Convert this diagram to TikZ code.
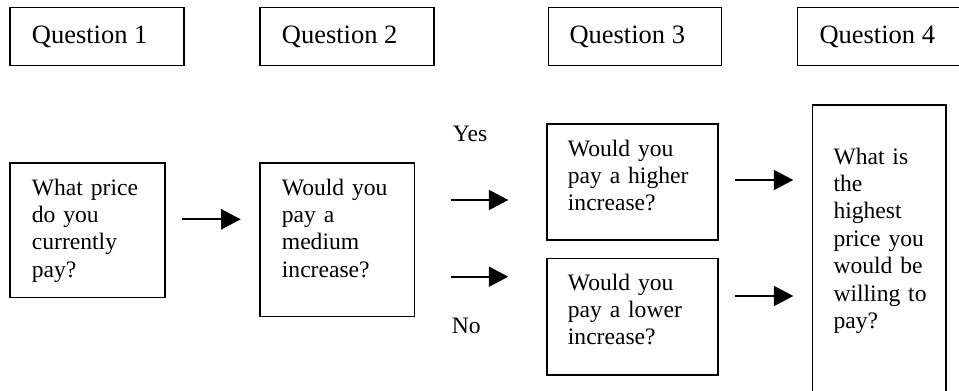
\documentclass[tikz,border=0pt]{standalone}
\usepackage{fontspec}
\setmainfont{Liberation Serif}
\usetikzlibrary{arrows.meta}
\begin{document}
\begin{tikzpicture}[x=1pt,y=-1pt,
  box/.style={draw, line width=1.7pt, inner sep=0pt, anchor=north west},
  head/.style={font=\fontsize{26.5}{30}\selectfont, anchor=base west, inner sep=0pt},
  body/.style={font=\fontsize{23.6}{27.4}\selectfont, align=left, anchor=base west, inner sep=0pt, text width=150pt},
  arr/.style={line width=2pt, -{Triangle[length=19.5pt,width=20pt]}}
]
\useasboundingbox (0,0) rectangle (959,391);
\clip (0,0) rectangle (959,391);
% header boxes
\node[box, minimum width=173.7pt, minimum height=58pt] (h1) at (9.3,6.7) {};
\node[box, minimum width=173.7pt, minimum height=58pt] (h2) at (259.3,6.7) {};
\node[box, minimum width=173pt, minimum height=58pt] (h3) at (547.7,6.7) {};
\node[box, minimum width=174pt, minimum height=58pt] (h4) at (796.7,6.7) {};
\node[head] (h1t) at (31.7,43) {Question 1};
\node[head] (h2t) at (281.7,43) {Question 2};
\node[head] (h3t) at (569.3,43) {Question 3};
\node[head] (h4t) at (819.3,43) {Question 4};
% question boxes
\node[box, minimum width=154.7pt, minimum height=134.4pt] (b1) at (9.3,162.3) {};
\node[box, minimum width=154.4pt, minimum height=153.4pt] (b2) at (259.3,162.3) {};
\node[box, minimum width=171.3pt, minimum height=116pt] (b3) at (546,123.3) {};
\node[box, minimum width=171.3pt, minimum height=116.3pt] (b4) at (546,257.7) {};
\node[box, minimum width=133.3pt, minimum height=320pt] (b5) at (811.7,104) {};
\node[body] (b1t) at (31.7,195) {What price\\do you\\currently\\pay?};
\node[body] (b2t) at (281.7,195) {Would you\\pay a\\medium\\increase?};
\node[body] (b3t) at (567.7,156) {Would you\\pay a higher\\increase?};
\node[body] (b4t) at (567.7,290) {Would you\\pay a lower\\increase?};
\node[body] (b5t) at (833.3,164) {What is\\the\\highest\\price you\\would be\\willing to\\pay?};
% labels
\node[body] (yes) at (452.7,141.7) {Yes};
\node[body] (no) at (451.7,333.3) {No};
% arrows
\coordinate (a1s) at (182.3,219.3); \coordinate (a1e) at (240.7,219.3);
\coordinate (a2s) at (450.7,200);   \coordinate (a2e) at (508.3,200);
\coordinate (a3s) at (450.7,276.7); \coordinate (a3e) at (508.3,276.7);
\coordinate (a4s) at (735.3,180);   \coordinate (a4e) at (793.3,180);
\coordinate (a5s) at (735.3,296);   \coordinate (a5e) at (793.3,296);
\draw[arr] (a1s) -- (a1e);
\draw[arr] (a2s) -- (a2e);
\draw[arr] (a3s) -- (a3e);
\draw[arr] (a4s) -- (a4e);
\draw[arr] (a5s) -- (a5e);
\end{tikzpicture}
\end{document}
